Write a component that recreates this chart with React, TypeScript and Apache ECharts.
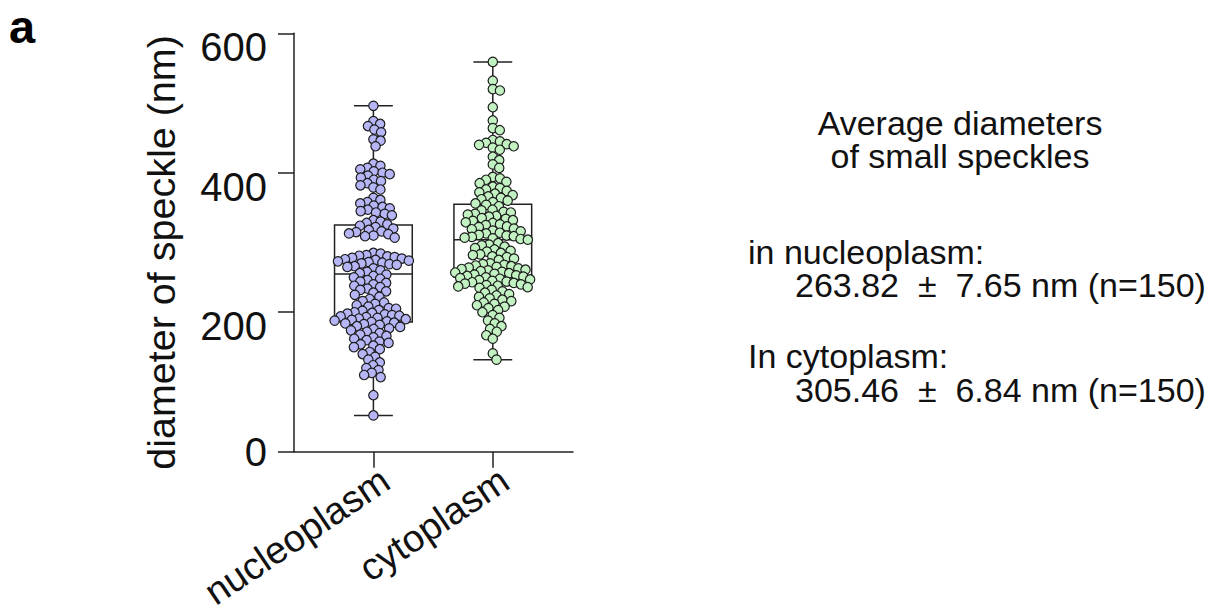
import React, { useEffect, useRef } from "react";
import * as echarts from "echarts";

const FONT = "'Liberation Sans', Arial, Helvetica, sans-serif";

const categories = ["nucleoplasm", "cytoplasm"];

const nucleoplasmValues = [
  496,
  474, 470, 467, 462, 458,
  448, 446, 438,
  413, 410, 407, 405, 402, 400, 398, 396, 393, 390, 388, 385, 382, 379, 376,
  364, 361, 358, 356, 353, 351, 349, 347, 345, 343, 341, 339,
  332, 330, 328, 326, 324, 322, 320, 318, 316, 315, 313, 312, 310, 309, 307,
  285, 284, 282, 281, 280, 279, 278, 277, 276, 275, 274, 273, 272, 271, 270, 269, 268, 266, 265, 263,
  260, 258, 256, 254, 252, 250, 248, 246, 244, 242, 240, 238, 236, 234, 232, 230, 228, 225, 222, 219, 216, 214, 212, 210, 208,
  206, 205, 203, 202, 200, 199, 198, 197, 196, 195, 194, 193, 192, 191, 190, 189, 188, 187, 186, 185,
  184, 183, 182, 180, 179, 177, 176, 174, 172, 170, 168, 166, 164, 162, 160, 158, 156, 154, 152, 150,
  147, 143, 140, 136, 132, 128, 124, 120, 117, 113, 110, 107,
  81, 52,
];

const cytoplasmValues = [
  559, 532, 520, 518, 494, 475, 464, 461,
  447, 445, 443, 441, 440, 438, 436, 433,
  423, 418, 412, 407,
  394, 392, 390, 387, 385,
  380, 378, 376, 374, 372, 370, 368, 366, 364, 362, 360, 358, 356, 354, 352,
  347, 346, 344, 343, 341, 340, 338, 337, 335, 334, 332, 331, 329, 328, 326, 325,
  323, 322, 320, 319, 317, 316, 314, 313, 311, 310, 309, 308, 307, 306, 305, 304,
  299, 297, 296, 294, 292, 290, 288, 287, 285, 283, 282, 280, 279, 277, 275,
  270, 269, 268, 267, 266, 265, 264, 263, 262, 261, 260, 259, 258, 257, 256, 255, 254, 253,
  252, 251, 250, 249, 248, 247, 246, 245, 244, 243, 242, 241, 240, 239, 238, 237, 236, 235,
  232, 230, 228, 226, 224, 222, 220, 218, 216, 214, 212, 210, 208, 206, 203,
  200, 196, 192, 188, 184, 180, 176, 172, 167, 162,
  141, 132,
];

// [min, Q1, median, Q3, max]
const nucleoplasmBox = [52, 186, 255, 325, 496];
const cytoplasmBox = [132, 250, 304, 355, 559];

const yTicks = [0, 200, 400, 600];

const titleLines = ["Average diameters", "of small speckles"];
const groupLabels = ["in nucleoplasm:", "In cytoplasm:"];
const groupStats = ["263.82  \u00B1  7.65 nm (n=150)", "305.46  \u00B1  6.84 nm (n=150)"];

const fills = ["#b6b6f6", "#c2f2c2"];

// layout constants
const GRID_TOP = 33.3;
const GRID_H = 418.4;
const AXIS_LEFT = 294;
const AXIS_W = 279;
const CAT_LEFT = 313.7;
const CAT_W = 238.8;
const LABEL_SHIFT = 12;
const PX_PER_X = CAT_W / 2;
const PX_PER_Y = GRID_H / (yTicks[yTicks.length - 1] - yTicks[0]);
const X_MIN = -0.5 - (CAT_LEFT - AXIS_LEFT) / PX_PER_X;
const X_MAX = 1.5 + (AXIS_LEFT + AXIS_W - CAT_LEFT - CAT_W) / PX_PER_X;

function beeswarm(values: number[], d: number): number[] {
  const idx = values.map((v, i) => ({ v, i })).sort((a, b) => b.v - a.v);
  const placed: { x: number; y: number }[] = [];
  const out = new Array(values.length).fill(0);
  for (const p of idx) {
    const y = p.v * PX_PER_Y;
    const near = placed.filter((q) => Math.abs(q.y - y) < d);
    const cands = [0];
    for (const q of near) {
      const dx = Math.sqrt(d * d - (q.y - y) * (q.y - y));
      cands.push(q.x + dx, q.x - dx);
    }
    cands.sort((a, b) => Math.abs(a) - Math.abs(b));
    let chosen = 0;
    for (const c of cands) {
      if (near.every((q) => (q.x - c) * (q.x - c) + (q.y - y) * (q.y - y) >= d * d - 1e-6)) {
        chosen = c;
        break;
      }
    }
    placed.push({ x: chosen, y });
    out[p.i] = chosen / PX_PER_X;
  }
  return out;
}

export default function App() {
  const ref = useRef<HTMLDivElement>(null);
  useEffect(() => {
    if (!ref.current) return;
    const chart = echarts.init(ref.current, null, { renderer: "svg" });
    const groups = [nucleoplasmValues, cytoplasmValues];
    const boxes = [nucleoplasmBox, cytoplasmBox];
    const axisColor = "#222";
    const textColor = "#111";

    const scatterSeries = groups.map((vals, gi) => {
      const offs = beeswarm(vals, 7.3);
      return {
        type: "scatter",
        xAxisIndex: 0,
        yAxisIndex: 0,
        symbol: "circle",
        symbolSize: 9.4,
        z: 5,
        itemStyle: { color: fills[gi], borderColor: "#1c1c1c", borderWidth: 1.2, opacity: 1 },
        data: vals.map((v, i) => [gi + offs[i], v]),
      };
    });

    const hiddenY = (gi: number) => ({
      type: "value",
      gridIndex: gi,
      min: yTicks[0],
      max: yTicks[yTicks.length - 1],
      show: false,
    });

    const txt = (x: number, y: number, text: string, align: string, extra: any = {}) => ({
      type: "text",
      x,
      y,
      style: {
        text,
        fontSize: 34,
        lineHeight: 30,
        fontFamily: FONT,
        fill: textColor,
        align,
        textAlign: align,
        verticalAlign: "middle",
        textVerticalAlign: "middle",
        ...extra,
      },
    });

    const option: any = {
      animation: false,
      backgroundColor: "#fff",
      grid: [
        { left: AXIS_LEFT, top: GRID_TOP, width: AXIS_W, height: GRID_H },
        { left: CAT_LEFT, top: GRID_TOP, width: CAT_W, height: GRID_H },
        { left: CAT_LEFT + LABEL_SHIFT, top: GRID_TOP, width: CAT_W, height: GRID_H },
      ],
      xAxis: [
        {
          type: "value",
          gridIndex: 0,
          min: X_MIN,
          max: X_MAX,
          axisLine: { show: true, onZero: false, lineStyle: { color: axisColor, width: 1.5 } },
          axisTick: { show: false },
          axisLabel: { show: false },
          splitLine: { show: false },
        },
        {
          type: "category",
          gridIndex: 1,
          data: categories,
          boundaryGap: true,
          axisLine: { show: false },
          axisTick: {
            show: true,
            alignWithLabel: true,
            length: 16,
            lineStyle: { color: axisColor, width: 1.5 },
          },
          axisLabel: { show: false },
          splitLine: { show: false },
        },
        {
          type: "category",
          gridIndex: 2,
          data: categories,
          boundaryGap: true,
          axisLine: { show: false },
          axisTick: { show: false },
          axisLabel: {
            rotate: 34,
            margin: 29,
            fontSize: 38,
            fontFamily: FONT,
            color: textColor,
          },
          splitLine: { show: false },
        },
      ],
      yAxis: [
        {
          type: "value",
          gridIndex: 0,
          min: yTicks[0],
          max: yTicks[yTicks.length - 1],
          interval: yTicks[1] - yTicks[0],
          name: "diameter of speckle (nm)",
          nameLocation: "middle",
          nameGap: 113,
          nameTextStyle: { fontSize: 39.5, fontFamily: FONT, color: textColor, padding: [0, 20, 0, 0] },
          axisLine: { show: true, onZero: false, lineStyle: { color: axisColor, width: 1.5 } },
          axisTick: { show: true, length: 16, lineStyle: { color: axisColor, width: 1.5 } },
          axisLabel: {
            margin: 27,
            formatter: (v: number) => (v === 0 ? "{z|0}" : `{h|${v}}`),
            rich: {
              h: { fontSize: 40, fontFamily: FONT, color: textColor, padding: [28, 0, 0, 0] },
              z: { fontSize: 40, fontFamily: FONT, color: textColor },
            },
          },
          splitLine: { show: false },
        },
        hiddenY(1),
        hiddenY(2),
      ],
      graphic: [
        {
          type: "text",
          x: 9,
          y: 26,
          style: {
            text: "a",
            fontSize: 47,
            lineHeight: 34,
            fontWeight: "bold",
            fontFamily: FONT,
            fill: "#000",
            align: "left",
            textAlign: "left",
            verticalAlign: "middle",
            textVerticalAlign: "middle",
          },
        },
        ...titleLines.map((t, i) => txt(960, 123 + i * 33, t, "center")),
        ...groupLabels.flatMap((t, i) => [
          txt(748, 251.5 + i * 104, t, "left"),
          txt(795, 285 + i * 105, groupStats[i], "left"),
        ]),
      ],
      series: [
        {
          type: "custom",
          xAxisIndex: 0,
          yAxisIndex: 0,
          z: 2,
          data: boxes.map((b, i) => [i, ...b]),
          renderItem: (params: any, api: any) => {
            const xi = api.value(0);
            const pMin = api.coord([xi, api.value(1)]);
            const pQ1 = api.coord([xi, api.value(2)]);
            const pMed = api.coord([xi, api.value(3)]);
            const pQ3 = api.coord([xi, api.value(4)]);
            const pMax = api.coord([xi, api.value(5)]);
            const half = api.size([0.651, 0])[0] / 2;
            const cap = half / 2;
            const cx = pMed[0];
            const st = { stroke: axisColor, lineWidth: 1.5, fill: "none" };
            return {
              type: "group",
              children: [
                {
                  type: "rect",
                  shape: { x: cx - half, y: pQ3[1], width: half * 2, height: pQ1[1] - pQ3[1] },
                  style: { ...st, fill: "none" },
                },
                { type: "line", shape: { x1: cx - half, y1: pMed[1], x2: cx + half, y2: pMed[1] }, style: st },
                { type: "line", shape: { x1: cx, y1: pQ3[1], x2: cx, y2: pMax[1] }, style: st },
                { type: "line", shape: { x1: cx, y1: pQ1[1], x2: cx, y2: pMin[1] }, style: st },
                { type: "line", shape: { x1: cx - cap, y1: pMax[1], x2: cx + cap, y2: pMax[1] }, style: st },
                { type: "line", shape: { x1: cx - cap, y1: pMin[1], x2: cx + cap, y2: pMin[1] }, style: st },
              ],
            };
          },
        },
        ...scatterSeries,
      ],
    };
    chart.setOption(option);
    return () => chart.dispose();
  }, []);
  return <div ref={ref} style={{ width: 1215, height: 613, margin: -8 }} />;
}
